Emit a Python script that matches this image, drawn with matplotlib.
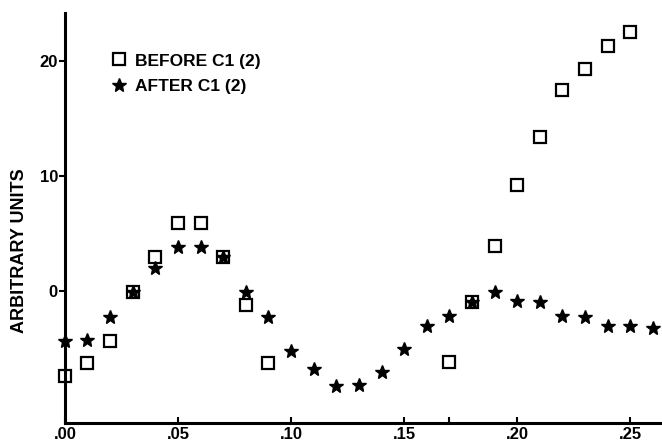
import numpy as np
import matplotlib
matplotlib.use('Agg')
import matplotlib.pyplot as plt

plt.rcParams['font.family'] = ['Liberation Sans', 'DejaVu Sans']
plt.rcParams['font.weight'] = 'bold'

# BEFORE C1 (2): open squares (no points between .10 and .16)
x_before = [0.00, 0.01, 0.02, 0.03, 0.04, 0.05, 0.06, 0.07, 0.08, 0.09,
            0.17, 0.18, 0.19, 0.20, 0.21, 0.22, 0.23, 0.24, 0.25]
y_before = [-7.4, -6.3, -4.4, -0.1, 2.9, 5.9, 5.9, 2.9, -1.2, -6.3,
            -6.2, -1.0, 3.9, 9.2, 13.4, 17.5, 19.3, 21.3, 22.5]

# AFTER C1 (2): filled stars
x_after = [0.00, 0.01, 0.02, 0.03, 0.04, 0.05, 0.06, 0.07, 0.08, 0.09,
           0.10, 0.11, 0.12, 0.13, 0.14, 0.15, 0.16, 0.17, 0.18, 0.19,
           0.20, 0.21, 0.22, 0.23, 0.24, 0.25, 0.26]
y_after = [-4.4, -4.3, -2.3, -0.1, 2.0, 3.8, 3.8, 2.9, -0.1, -2.3,
           -5.2, -6.8, -8.3, -8.2, -7.1, -5.1, -3.1, -2.2, -1.0, -0.1,
           -0.9, -1.0, -2.2, -2.3, -3.1, -3.1, -3.2]

xticks = [0.00, 0.05, 0.10, 0.15, 0.20, 0.25]
xtick_labels = ['.00', '.05', '.10', '.15', '.20', '.25']
yticks = [0, 10, 20]

fig = plt.figure(figsize=(6.62, 4.41), dpi=100)
ax = fig.add_axes([0.098, 0.041, 0.902, 0.930])

ax.plot(x_before, y_before, linestyle='none', marker='s', ms=8.5,
        mfc='none', mec='black', mew=1.6, clip_on=False, label='BEFORE C1 (2)')
ax.plot(x_after, y_after, linestyle='none', marker='*', ms=10.5,
        color='black', mec='black', clip_on=False, label='AFTER C1 (2)')

ax.set_xlim(0, 0.264)
ax.set_ylim(-11.5, 24.2)

for s in ['top', 'right']:
    ax.spines[s].set_visible(False)
for s in ['left', 'bottom']:
    ax.spines[s].set_linewidth(2.2)

ax.set_xticks(xticks)
ax.set_xticklabels(xtick_labels)
ax.set_xticks([0.17], minor=True)
ax.set_yticks(yticks)
ax.tick_params(axis='x', which='both', direction='in', length=4, width=1.5,
               pad=3, labelsize=12)
ax.tick_params(axis='y', direction='out', length=4, width=1.5, pad=1,
               labelsize=12)

ax.set_ylabel('ARBITRARY UNITS', fontsize=13, fontweight='bold')
ax.yaxis.set_label_coords(-0.062, 0.42)

ax.legend(loc='upper left', bbox_to_anchor=(0.064, 0.918), frameon=False,
          fontsize=12.5, handletextpad=0.45, labelspacing=0.6,
          borderaxespad=0, handlelength=1.0)

fig.savefig('out.png', dpi=100)
